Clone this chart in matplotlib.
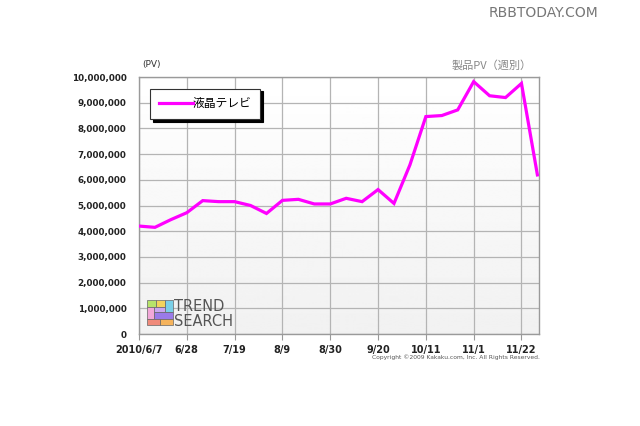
import numpy as np
import matplotlib
matplotlib.use("Agg")
import matplotlib.pyplot as plt
from matplotlib.patches import Rectangle

plt.rcParams["font.family"] = ["DejaVu Sans", "Noto Sans CJK JP"]

# weekly product page views, 2010/6/7 .. 2010/11/29
weeks = list(range(26))
pv = [4.20e6, 4.15e6, 4.45e6, 4.72e6, 5.19e6, 5.15e6, 5.15e6, 5.00e6, 4.69e6,
      5.20e6, 5.24e6, 5.06e6, 5.06e6, 5.28e6, 5.15e6, 5.62e6, 5.08e6, 6.58e6,
      8.46e6, 8.50e6, 8.72e6, 9.82e6, 9.27e6, 9.20e6, 9.75e6, 6.19e6]
tick_weeks = [0, 3, 6, 9, 12, 15, 18, 21, 24]
tick_labels = ["2010/6/7", "6/28", "7/19", "8/9", "8/30", "9/20", "10/11", "11/1", "11/22"]
series_name = "液晶テレビ"

fig = plt.figure(figsize=(6.4, 4.26), dpi=100)
ax = fig.add_axes([139 / 640, 1 - 334 / 426, 400 / 640, 257 / 426])

# soft gradient background in the plot area
grad = np.linspace(1.0, 0.945, 256).reshape(-1, 1)
ax.imshow(grad, extent=[0, 1, 0, 1], transform=ax.transAxes, cmap="gray",
          vmin=0, vmax=1, aspect="auto", zorder=0)

ax.plot(weeks, pv, color="#ff00ff", linewidth=2.3, label=series_name,
        solid_joinstyle="miter", zorder=3)

ax.set_xlim(0, 25.1)
ax.set_ylim(0, 10_000_000)
ax.set_yticks(np.arange(0, 10_000_001, 1_000_000))
ax.set_yticklabels([f"{v:,}" for v in range(0, 10_000_001, 1_000_000)])
ax.set_xticks(tick_weeks)
ax.set_xticklabels(tick_labels)
ax.tick_params(axis="y", length=0, pad=9, labelsize=6.3, colors="#222222")
ax.tick_params(axis="x", length=4, width=0.8, color="#999999", pad=4,
               labelsize=7, colors="#222222")
for lbl in ax.get_xticklabels() + ax.get_yticklabels():
    lbl.set_fontweight("bold")
ax.grid(True, color="#b4b4b4", linewidth=0.9, zorder=1)
ax.set_axisbelow(True)
for sp in ax.spines.values():
    sp.set_color("#9a9a9a")
    sp.set_linewidth(1.0)

leg = ax.legend(loc="upper left", bbox_to_anchor=(0.027, 0.955), frameon=True,
                fancybox=False, shadow={"color": "black", "alpha": 1.0},
                edgecolor="#333333", framealpha=1,
                handlelength=2.9, borderpad=0.75, handletextpad=0.0,
                borderaxespad=0,
                prop={"family": ["Noto Sans CJK JP"], "size": 8.5})
leg.get_frame().set_linewidth(0.8)

fig.text(142 / 640, 1 - 65 / 426, "(PV)", fontsize=6.5, color="#333333",
         va="center", ha="left")
fig.text(532 / 640, 1 - 65 / 426, "製品PV（週別）", fontsize=8, color="#888888",
         va="center", ha="right", family=["Noto Sans CJK JP"])
fig.text(540 / 640, 1 - 357 / 426,
         "Copyright ©2009 Kakaku.com, Inc. All Rights Reserved.",
         fontsize=4.3, color="#555555", va="center", ha="right")
fig.text(598 / 640, 1 - 13 / 426, "RBBTODAY.COM", fontsize=10, color="#777777",
         va="center", ha="right")

# TREND SEARCH logo
lx, ly = 147, 300
blocks = [
    (0, 0, 9, 7, "#b7e36a"), (9, 0, 9, 7, "#f3d35c"), (18, 0, 8, 12, "#7ad0e8"),
    (0, 7, 7, 12, "#f2a8d8"), (7, 7, 11, 5, "#c9a6f0"), (7, 12, 19, 7, "#9a7be8"),
    (0, 19, 13, 6, "#f08a7a"), (13, 19, 13, 6, "#f5b35c"),
]
for bx, by, bw, bh, c in blocks:
    fig.patches.append(Rectangle(((lx + bx) / 640, 1 - (ly + by + bh) / 426),
                                 bw / 640, bh / 426, transform=fig.transFigure,
                                 facecolor=c, edgecolor="#666666", linewidth=0.5))
fig.text(174 / 640, 1 - 311 / 426, "TREND", fontsize=10.5, color="#555555",
         va="baseline", ha="left")
fig.text(174 / 640, 1 - 326 / 426, "SEARCH", fontsize=10.5, color="#555555",
         va="baseline", ha="left")

fig.savefig("out.png", dpi=100)
